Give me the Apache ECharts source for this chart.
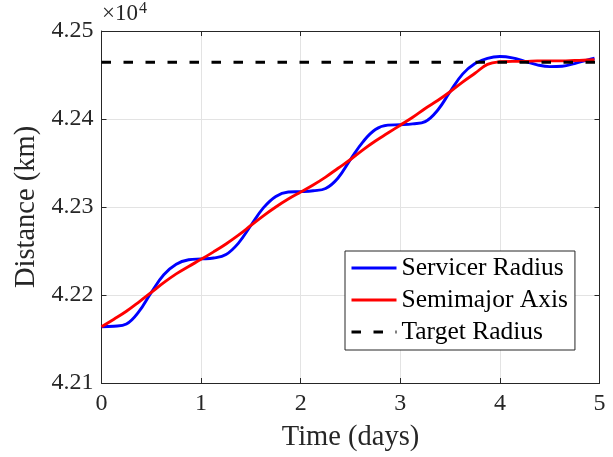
<!DOCTYPE html>
<html>
<head>
<meta charset="utf-8">
<script src="https://cdn.jsdelivr.net/npm/echarts@6/dist/echarts.min.js"></script>
<style>
  html, body { margin: 0; padding: 0; background: #ffffff; }
  #chart { width: 613px; height: 457px; }
</style>
</head>
<body>
<div id="chart"></div>
<script>
// Orbit-raising manoeuvre: servicer radius and semimajor axis vs time (km)
const days = [0, 0.125, 0.25, 0.375, 0.5, 0.625, 0.75, 0.875, 1, 1.125, 1.25, 1.375, 1.5, 1.625, 1.75, 1.875,
  2, 2.125, 2.25, 2.375, 2.5, 2.625, 2.75, 2.875, 3, 3.125, 3.25, 3.375, 3.5, 3.625, 3.75, 3.875,
  4, 4.125, 4.25, 4.375, 4.5, 4.625, 4.75, 4.875, 4.95];

const servicerRadius = [42164, 42164.5, 42167, 42181, 42203, 42223, 42235, 42240, 42241, 42242, 42246, 42259,
  42279, 42299, 42312, 42317, 42317.5, 42318.5, 42321, 42333, 42354, 42374, 42388, 42393, 42393.5, 42394.5,
  42397, 42410, 42431, 42451, 42463, 42469, 42471, 42469.5, 42465.5, 42461.5, 42459.5, 42460, 42463, 42467, 42469];

const semimajorAxis = [42164, 42172.5, 42181.5, 42192, 42203, 42214, 42224, 42232.5, 42240.5, 42249, 42258, 42268,
  42279, 42290, 42300, 42309, 42317, 42325, 42334, 42344, 42354, 42365, 42375, 42384, 42393, 42402, 42412,
  42421, 42431, 42442, 42452, 42462, 42465, 42465.5, 42465.5, 42466, 42466, 42466, 42466.5, 42467, 42467.5];

const targetDays = [0, 5];
const targetRadius = [42464.5, 42464.5];

const xTicks = [0, 1, 2, 3, 4, 5];
const yTicks = [42100, 42200, 42300, 42400, 42500];

const seriesNames = ['Servicer Radius', 'Semimajor Axis', 'Target Radius'];

const pairs = (xs, ys) => xs.map((x, i) => [x, ys[i]]);

const AX = '#262626';
const FONT = '"Liberation Serif", "Times New Roman", serif';

const chart = echarts.init(document.getElementById('chart'), null, { renderer: 'canvas' });

const grid = { left: 101.5, right: 13.5, top: 31, bottom: 73 };

chart.setOption({
  backgroundColor: '#ffffff',
  animation: false,
  grid: Object.assign({ containLabel: false }, grid),
  xAxis: [
    {
      type: 'value', min: xTicks[0], max: xTicks[xTicks.length - 1], interval: 1,
      position: 'bottom',
      name: 'Time (days)', nameLocation: 'middle', nameGap: 40,
      nameTextStyle: { fontFamily: FONT, fontSize: 28.5, color: AX },
      axisLine: { show: true, onZero: false, lineStyle: { color: AX, width: 1 } },
      axisTick: { show: true, inside: true, length: 5, lineStyle: { color: AX } },
      axisLabel: { margin: 9, fontFamily: FONT, fontSize: 24, color: AX },
      splitLine: { show: true, lineStyle: { color: '#e3e3e3', width: 1 } }
    },
    {
      type: 'value', min: xTicks[0], max: xTicks[xTicks.length - 1], interval: 1,
      position: 'top',
      axisLine: { show: true, onZero: false, lineStyle: { color: AX, width: 1 } },
      axisTick: { show: true, inside: true, length: 5, lineStyle: { color: AX } },
      axisLabel: { show: false },
      splitLine: { show: false }
    }
  ],
  yAxis: [
    {
      type: 'value', min: yTicks[0], max: yTicks[yTicks.length - 1], interval: 100,
      position: 'left',
      name: 'Distance (km)', nameLocation: 'middle', nameGap: 57, nameRotate: 90,
      nameTextStyle: { fontFamily: FONT, fontSize: 28.5, color: AX },
      axisLine: { show: true, onZero: false, lineStyle: { color: AX, width: 1 } },
      axisTick: { show: true, inside: true, length: 5, lineStyle: { color: AX } },
      axisLabel: {
        margin: 8, fontFamily: FONT, fontSize: 24, color: AX,
        formatter: v => (v / 10000).toFixed(2)
      },
      splitLine: { show: true, lineStyle: { color: '#e3e3e3', width: 1 } }
    },
    {
      type: 'value', min: yTicks[0], max: yTicks[yTicks.length - 1], interval: 100,
      position: 'right',
      axisLine: { show: true, onZero: false, lineStyle: { color: AX, width: 1 } },
      axisTick: { show: true, inside: true, length: 5, lineStyle: { color: AX } },
      axisLabel: { show: false },
      splitLine: { show: false }
    }
  ],
  legend: {
    orient: 'vertical',
    left: 345, top: 251,
    data: seriesNames,
    itemWidth: 45, itemHeight: 14, itemGap: 6,
    padding: [4, 7, 5, 5],
    backgroundColor: '#ffffff',
    borderColor: AX, borderWidth: 1, borderRadius: 0,
    itemStyle: { opacity: 0, borderWidth: 0 },
    lineStyle: { width: 3 },
    textStyle: { fontFamily: FONT, fontSize: 25.5, color: '#000000', lineHeight: 24.5 }
  },
  graphic: [
    {
      type: 'text', left: 102, top: 1,
      style: {
        text: '{a|×10}{b|4}',
        rich: {
          a: { fontFamily: FONT, fontSize: 23, fill: AX, lineHeight: 26 },
          b: { fontFamily: FONT, fontSize: 16, fill: AX, verticalAlign: 'top', lineHeight: 26, padding: [0, 0, 10, 1] }
        }
      }
    }
  ],
  series: [
    {
      name: seriesNames[0], type: 'line', xAxisIndex: 0, yAxisIndex: 0,
      data: pairs(days, servicerRadius),
      symbol: 'none', smooth: 0.4,
      lineStyle: { color: '#0000ff', width: 2.9 }, itemStyle: { color: '#0000ff' },
      z: 2
    },
    {
      name: seriesNames[1], type: 'line', xAxisIndex: 0, yAxisIndex: 0,
      data: pairs(days, semimajorAxis),
      symbol: 'none', smooth: 0.4,
      lineStyle: { color: '#ff0000', width: 2.9 }, itemStyle: { color: '#ff0000' },
      z: 3
    },
    {
      name: seriesNames[2], type: 'line', xAxisIndex: 0, yAxisIndex: 0,
      data: pairs(targetDays, targetRadius),
      symbol: 'none',
      lineStyle: { color: '#000000', width: 2.9, type: [9.5, 12.5] }, itemStyle: { color: '#000000' },
      z: 4
    }
  ]
});
</script>
</body>
</html>
